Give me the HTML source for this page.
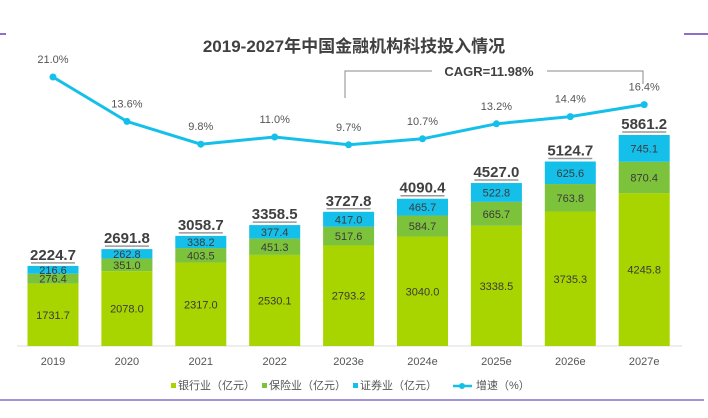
<!DOCTYPE html>
<html><head><meta charset="utf-8"><style>
body{margin:0;background:#fff;}
svg{display:block;font-family:"Liberation Sans","Noto Sans CJK SC",sans-serif;}
</style></head><body>
<svg id="c" width="708" height="418" viewBox="0 0 708 418">
<line x1="0" y1="34" x2="6" y2="34" stroke="#6a3fb8" stroke-width="1.5"/>
<line x1="684" y1="34" x2="708" y2="34" stroke="#6a3fb8" stroke-width="1.5"/>
<line x1="0" y1="400" x2="704" y2="400" stroke="#8a70c8" stroke-width="1.5"/>
<text x="354" y="52" text-anchor="middle" font-size="17" font-weight="bold" fill="#404040">2019-2027年中国金融机构科技投入情况</text>
<g>
<polyline points="345,98 345,71 432,71" fill="none" stroke="#888" stroke-width="1"/>
<polyline points="547,71 643,71 643,84" fill="none" stroke="#888" stroke-width="1"/>
<text x="489" y="76" text-anchor="middle" font-size="13" font-weight="bold" fill="#404040">CAGR=11.98%</text>
</g>
<line x1="17" y1="346" x2="682" y2="346" stroke="#ddd" stroke-width="1"/>
<g id="bars"></g><g id="line"></g>
<g font-size="11" fill="#555">
<g><rect x="171" y="383" width="5" height="5" fill="#a8d500"/><text x="178" y="389">银行业（亿元）</text></g>
<g><rect x="262" y="383" width="5" height="5" fill="#7dc23b"/><text x="269" y="389">保险业（亿元）</text></g>
<g><rect x="353" y="383" width="5" height="5" fill="#14c0ea"/><text x="360" y="389">证券业（亿元）</text></g>
<g><line x1="453" y1="386" x2="472" y2="386" stroke="#14c0ea" stroke-width="2.5"/><circle cx="462" cy="386" r="3" fill="#14c0ea"/><text x="476" y="389">增速（%）</text></g>
</g>
</svg>
<script>
const categories=["2019","2020","2021","2022","2023e","2024e","2025e","2026e","2027e"];
const bank=[1731.7,2078.0,2317.0,2530.1,2793.2,3040.0,3338.5,3735.3,4245.8];
const insurance=[276.4,351.0,403.5,451.3,517.6,584.7,665.7,763.8,870.4];
const securities=[216.6,262.8,338.2,377.4,417.0,465.7,522.8,625.6,745.1];
const totals=[2224.7,2691.8,3058.7,3358.5,3727.8,4090.4,4527.0,5124.7,5861.2];
const growth=[21.0,13.6,9.8,11.0,9.7,10.7,13.2,14.4,16.4];
const NS="http://www.w3.org/2000/svg";
const xC=i=>53+i*73.9, yV=v=>346-v*0.036, hV=v=>v*0.036, yG=g=>77+(21-g)*6.0;
const bw=51;
function mk(t,a,p){const e=document.createElementNS(NS,t);for(const k in a)e.setAttribute(k,a[k]);p.appendChild(e);return e;}
const bg=document.getElementById('bars'), lg=document.getElementById('line');
categories.forEach((c,i)=>{
  const x=xC(i)-bw/2;
  const segs=[[bank[i],'#a8d500','bank'],[insurance[i],'#7dc23b','insurance'],[securities[i],'#14c0ea','securities']];
  let base=0;
  segs.forEach(([v,col,n])=>{
    const r=mk('rect',{x:x,y:yV(base+v),width:bw,height:hV(v),fill:col},bg);
    
    
    const t=mk('text',{x:xC(i),y:yV(base+v/2)+4,'text-anchor':'middle','font-size':11,fill:'#3a3a3a'},bg);
    t.textContent=v.toFixed(1);
    
    
    base+=v;
  });
  const tt=mk('text',{x:xC(i),y:yV(totals[i])-6,'text-anchor':'middle','font-size':15,'font-weight':'bold',fill:'#404040'},bg);
  tt.textContent=totals[i].toFixed(1);
  
  
  const ul=mk('line',{x1:xC(i)-22,x2:xC(i)+22,y1:yV(totals[i])-3,y2:yV(totals[i])-3,stroke:'#999','stroke-width':1.5},bg);
  
  
  const xl=mk('text',{x:xC(i),y:365,'text-anchor':'middle','font-size':11,fill:'#555'},bg);
  xl.textContent=c;
  
  
});
const pl=mk('polyline',{points:growth.map((g,i)=>xC(i)+','+yG(g)).join(' '),fill:'none',stroke:'#14c0ea','stroke-width':3},lg);


growth.forEach((g,i)=>{
  const p=mk('circle',{cx:xC(i),cy:yG(g),r:3.5,fill:'#14c0ea'},lg);
  
  
  const t=mk('text',{x:xC(i),y:yG(g)-14,'text-anchor':'middle','font-size':11,fill:'#555'},lg);
  t.textContent=g.toFixed(1)+'%';
  
  
});
</script>
</body></html>
